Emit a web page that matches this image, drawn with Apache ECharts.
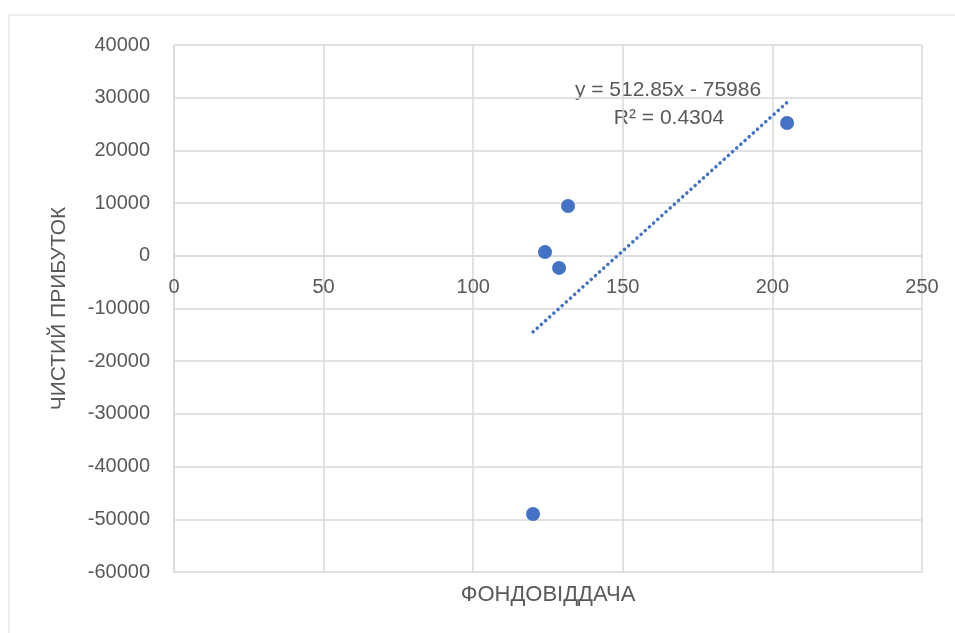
<!DOCTYPE html>
<html>
<head>
<meta charset="utf-8">
<script src="https://cdn.jsdelivr.net/npm/echarts@6/dist/echarts.min.js"></script>
<style>html,body{margin:0;padding:0;background:#fff;}#c{width:955px;height:633px;}</style>
</head>
<body>
<div id="c"></div>
<script>
const xValues = [120, 124, 128.7, 131.7, 204.9];
const yValues = [-49000, 700, -2300, 9450, 25200];
const trendSlope = 512.85;
const trendIntercept = -75986;
const trendLabel = ["y = 512.85x - 75986", "R² = 0.4304"];
const xAxisTitle = "ФОНДОВІДДАЧА";
const yAxisTitle = "ЧИСТИЙ ПРИБУТОК";

const points = xValues.map((x, i) => [x, yValues[i]]);
const xMin = Math.min(...xValues), xMax = Math.max(...xValues);
const trend = [[xMin, trendSlope * xMin + trendIntercept], [xMax, trendSlope * xMax + trendIntercept]];

const FONT = "Liberation Sans";
const GREY = '#595959';
const chart = echarts.init(document.getElementById('c'));
chart.setOption({
  animation: false,
  textStyle: { fontFamily: FONT },
  grid: { left: 174, right: 33, top: 45, bottom: 61 },
  xAxis: {
    type: 'value', min: 0, max: 250, interval: 50,
    axisLine: { onZero: true, onZeroAxisIndex: 0, lineStyle: { color: '#d9d9d9', width: 1.5 } },
    axisTick: { show: false },
    axisLabel: { color: GREY, fontSize: 20, margin: 22, formatter: v => String(v) },
    splitLine: { lineStyle: { color: '#d9d9d9', width: 1.5 } }
  },
  yAxis: {
    type: 'value', min: -60000, max: 40000, interval: 10000,
    name: yAxisTitle, nameLocation: 'middle', nameGap: 104, nameRotate: 90,
    nameTextStyle: { color: GREY, fontSize: 21, fontFamily: FONT },
    axisLine: { show: true, onZero: false, lineStyle: { color: '#d9d9d9', width: 1.5 } },
    axisTick: { show: false },
    axisLabel: { color: GREY, fontSize: 20, margin: 24, formatter: v => String(v) },
    splitLine: { lineStyle: { color: '#d9d9d9', width: 1.5 } }
  },
  graphic: [
    { type: 'rect', shape: { x: 9, y: 15, width: 1000, height: 700 }, style: { fill: 'none', stroke: '#d9d9d9', lineWidth: 1 }, z: -1 },
    { type: 'text', x: 548, y: 595, style: { text: xAxisTitle, fill: GREY, font: '22px "' + FONT + '"', textAlign: 'center', textVerticalAlign: 'middle' } },
    { type: 'text', x: 668, y: 90, style: { text: trendLabel[0], fill: GREY, font: '21px "' + FONT + '"', textAlign: 'center', textVerticalAlign: 'middle' } },
    { type: 'text', x: 669, y: 118, style: { text: trendLabel[1], fill: GREY, font: '21px "' + FONT + '"', textAlign: 'center', textVerticalAlign: 'middle' } }
  ],
  series: [
    {
      type: 'line', data: trend, symbol: 'none', silent: true, z: 1,
      lineStyle: { color: '#4472C4', width: 3.5, type: [0.1, 5.5], cap: 'round' }
    },
    {
      type: 'scatter', data: points, symbol: 'circle', symbolSize: 14, z: 2,
      itemStyle: { color: '#4472C4', opacity: 1 }
    }
  ]
});
// Put the horizontal axis on the y = 0 line (Excel style), using the chart's own y scale.
const bottomPx = chart.convertToPixel({ yAxisIndex: 0 }, -60000);
const zeroPx = chart.convertToPixel({ yAxisIndex: 0 }, 0);
if (Math.abs(bottomPx - zeroPx) > 1) {
  chart.setOption({ xAxis: { axisLine: { onZero: false }, offset: -(bottomPx - zeroPx) } });
}
</script>
</body>
</html>
